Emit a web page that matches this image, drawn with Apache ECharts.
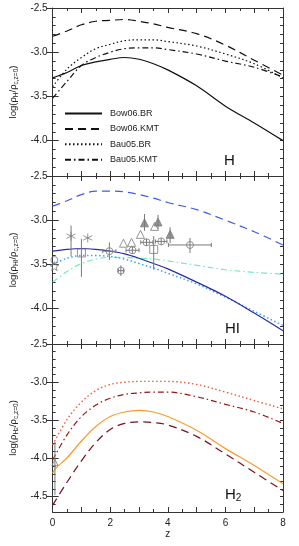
<!DOCTYPE html>
<html><head><meta charset="utf-8">
<script src="https://cdn.jsdelivr.net/npm/echarts@6/dist/echarts.min.js"></script>
<style>html,body{margin:0;padding:0;background:#fff}#c{width:299px;height:546px}</style>
</head><body><div id="c"></div>
<script>
// ---------- data ----------
const zGrid = [0, 0.5, 1, 1.5, 2, 2.5, 3, 3.5, 4, 5, 6, 7, 8];
const zGridH2 = [0, 0.1, 0.5, 1, 1.5, 2, 2.5, 3, 3.5, 4, 5, 6, 7, 8];
const xTickLabels = [0, 2, 4, 6, 8];
const yLabelsTop = [-4.0, -3.5, -3.0, -2.5];
const yLabelsBottom = [-4.5, -4.0, -3.5, -3.0, -2.5];

// H panel
const bow06BR_H  = [-3.29, -3.23, -3.15, -3.11, -3.08, -3.06, -3.08, -3.13, -3.20, -3.38, -3.61, -3.80, -4.00];
const bow06KMT_H = [-2.82, -2.76, -2.69, -2.65, -2.64, -2.63, -2.65, -2.68, -2.72, -2.79, -2.92, -3.09, -3.26];
const bau05BR_H  = [-3.39, -3.19, -3.06, -2.96, -2.91, -2.87, -2.86, -2.86, -2.88, -2.93, -3.02, -3.13, -3.29];
const bau05KMT_H = [-3.52, -3.33, -3.15, -3.06, -3.00, -2.96, -2.95, -2.95, -2.97, -3.02, -3.10, -3.17, -3.28];

// HI panel
const bow06KMT_HI = [-2.84, -2.78, -2.71, -2.67, -2.67, -2.68, -2.71, -2.75, -2.80, -2.88, -3.00, -3.13, -3.28];
const bow06BR_HI  = [-3.35, -3.33, -3.32, -3.33, -3.35, -3.38, -3.43, -3.49, -3.55, -3.70, -3.86, -4.05, -4.25];
const bau05BR_HI  = [-3.50, -3.43, -3.40, -3.40, -3.41, -3.44, -3.49, -3.54, -3.60, -3.72, -3.87, -4.03, -4.19];
const bau05KMT_HI = [-3.70, -3.58, -3.49, -3.44, -3.42, -3.42, -3.43, -3.44, -3.46, -3.51, -3.56, -3.59, -3.61];

// H2 panel
const bow06BR_H2  = [-4.19, -4.13, -3.99, -3.77, -3.58, -3.45, -3.39, -3.37, -3.39, -3.45, -3.63, -3.87, -4.09, -4.33];
const bau05BR_H2  = [-3.82, -3.49, -3.26, -3.11, -3.03, -3.00, -2.99, -2.99, -2.99, -3.03, -3.13, -3.24, -3.35];
const bau05KMT_H2 = [-4.02, -3.69, -3.45, -3.30, -3.21, -3.16, -3.14, -3.13, -3.13, -3.19, -3.29, -3.39, -3.54];
const bow06KMT_H2 = [-4.61, -4.31, -4.03, -3.79, -3.62, -3.54, -3.52, -3.53, -3.56, -3.71, -3.94, -4.18, -4.42];

// observations in HI panel: [z, value]
const obsAsterisk = [[0.64, -3.18], [1.22, -3.20]];
const obsSquare = [[1.00, -3.37], [3.51, -3.33]];
const obsCircle = [[1.97, -3.35], [2.77, -3.34], [3.26, -3.25], [3.77, -3.24], [4.77, -3.28], [2.37, -3.57], [0.06, -3.45]];
const obsOpenTri = [[2.46, -3.26], [2.74, -3.25], [3.05, -3.16], [3.54, -3.07]];
const obsFilledTri = [[3.19, -3.03], [3.66, -3.02], [4.08, -3.16]];
const obsStar = [[0.06, -3.52]];
// error bars in HI panel: [z, value, zLow, zHigh, valLow, valHigh]
const obsErrHI = [
  [0.64, -3.18, 0.64, 0.64, -3.41, -3.06],
  [1.00, -3.37, 1.00, 1.00, -3.64, -3.21],
  [3.51, -3.33, 3.51, 3.51, -3.56, -3.18],
  [1.97, -3.35, 1.74, 2.20, -3.45, -3.25],
  [2.77, -3.34, 2.55, 3.00, -3.38, -3.30],
  [3.26, -3.25, 3.06, 3.48, -3.29, -3.21],
  [3.77, -3.24, 3.57, 3.97, -3.28, -3.20],
  [4.77, -3.28, 4.02, 5.51, -3.37, -3.20],
  [2.37, -3.57, 2.28, 2.46, -3.63, -3.51],
  [3.19, -3.03, 3.19, 3.19, -3.12, -2.93],
  [3.66, -3.02, 3.66, 3.66, -3.10, -2.94],
  [4.08, -3.16, 4.08, 4.08, -3.26, -3.08]
];
// observation in H2 panel
const obsH2 = [[0.08, -4.05]];
const obsErrH2 = [[0.08, -4.05, 0.08, 0.08, -4.48, -3.78]];

// ---------- chart ----------
const FONT = 'Liberation Sans, Arial, Helvetica, sans-serif';
const AX = '#333';
const GRAY = '#7a7a7a';
const pair = (xs, ys) => ys.map((v, i) => [xs[i], v]);

const grids = [
  {left: 49, top: 8, width: 234, height: 168},
  {left: 49, top: 176, width: 234, height: 168},
  {left: 49, top: 344, width: 234, height: 168}
];
const yRanges = [[-4.4, -2.5], [-4.4, -2.5], [-4.7, -2.5]];
const yLabelSets = [yLabelsTop, yLabelsTop, yLabelsBottom];

function nameFor(i) {
  const sub = i === 0 ? '{s|H}' : (i === 1 ? '{s|HI}' : '{s|H}{ss|2}');
  return '{n|log(ρ}' + sub + '{n|/ρ}{s|c,z=0}{n|)}';
}
const nameRich = {
  n: {fontSize: 9.5, fontFamily: FONT, color: '#222', lineHeight: 13},
  s: {fontSize: 6.5, fontFamily: FONT, color: '#222', lineHeight: 7, verticalAlign: 'bottom'},
  ss: {fontSize: 5, fontFamily: FONT, color: '#222', lineHeight: 5, verticalAlign: 'bottom'}
};

const xAxes = [], yAxes = [];
grids.forEach((g, i) => {
  ['bottom', 'top'].forEach(pos => {
    xAxes.push({
      type: 'value', gridIndex: i, position: pos, min: 0, max: 8, interval: 1,
      axisLine: {show: true, onZero: false, lineStyle: {color: AX, width: 1}},
      axisTick: {show: true, inside: true, length: 5, lineStyle: {color: AX}},
      minorTick: {show: true, splitNumber: 2, length: 3, lineStyle: {color: AX}},
      splitLine: {show: false},
      axisLabel: {
        show: i === 2 && pos === 'bottom', color: '#222', fontSize: 10, fontFamily: FONT, margin: 6,
        customValues: xTickLabels, formatter: v => String(v)
      },
      name: (i === 2 && pos === 'bottom') ? 'z' : '',
      nameLocation: 'middle', nameGap: 17,
      nameTextStyle: {fontSize: 10, fontFamily: FONT, color: '#222'}
    });
  });
  const [mn, mx] = yRanges[i];
  ['left', 'right'].forEach(pos => {
    // minor ticks + labels
    yAxes.push({
      type: 'value', gridIndex: i, position: pos, min: mn, max: mx, interval: 0.1,
      axisLine: {show: true, onZero: false, lineStyle: {color: AX, width: 1}},
      axisTick: {show: true, inside: true, length: 3, lineStyle: {color: AX}},
      splitLine: {show: false},
      axisLabel: {
        show: pos === 'left', color: '#222', fontSize: 10, fontFamily: FONT, margin: 5,
        customValues: yLabelSets[i], formatter: v => v.toFixed(1)
      },
      name: pos === 'left' ? nameFor(i) : '',
      nameLocation: 'middle', nameGap: 33,
      nameTextStyle: {rich: nameRich}
    });
    // major ticks
    yAxes.push({
      type: 'value', gridIndex: i, position: pos, min: mn, max: mx, interval: 0.1,
      axisLine: {show: false},
      axisTick: {show: true, inside: true, length: 6, customValues: yLabelSets[i], lineStyle: {color: AX}},
      splitLine: {show: false},
      axisLabel: {show: false}
    });
  });
});

const DASH = [8, 5], DOT = [1.5, 2.5], DASHDOT = [6, 3, 1.5, 3];
function line(name, data, gi, color, type, width) {
  return {
    name, type: 'line', data, xAxisIndex: gi * 2, yAxisIndex: gi * 4,
    showSymbol: false, symbol: 'none', smooth: 0.35, clip: true,
    lineStyle: {color, type, width: width || 1.2}, itemStyle: {color},
    silent: true, animation: false, z: 2
  };
}
function errSeries(data, gi) {
  return {
    type: 'custom', xAxisIndex: gi * 2, yAxisIndex: gi * 4, data, clip: true, z: 3,
    encode: {x: 0, y: 1}, animation: false, silent: true,
    renderItem: (params, api) => {
      const x = api.value(0), y = api.value(1);
      const xl = api.value(2), xh = api.value(3), yl = api.value(4), yh = api.value(5);
      const ch = [];
      const st = {stroke: GRAY, lineWidth: 1};
      if (xh > xl) {
        const a = api.coord([xl, y]), b = api.coord([xh, y]);
        ch.push({type: 'line', shape: {x1: a[0], y1: a[1], x2: b[0], y2: b[1]}, style: st});
        ch.push({type: 'line', shape: {x1: a[0], y1: a[1] - 2, x2: a[0], y2: a[1] + 2}, style: st});
        ch.push({type: 'line', shape: {x1: b[0], y1: b[1] - 2, x2: b[0], y2: b[1] + 2}, style: st});
      }
      if (yh > yl) {
        const a = api.coord([x, yl]), b = api.coord([x, yh]);
        ch.push({type: 'line', shape: {x1: a[0], y1: a[1], x2: b[0], y2: b[1]}, style: st});
      }
      return {type: 'group', children: ch};
    }
  };
}
function scat(data, gi, symbol, size, filled) {
  return {
    type: 'scatter', xAxisIndex: gi * 2, yAxisIndex: gi * 4, data, symbol, symbolSize: size,
    itemStyle: {color: filled ? GRAY : 'rgba(255,255,255,0)', borderColor: GRAY, borderWidth: 1},
    animation: false, silent: true, z: 4
  };
}
const ASTER = 'path://M0,-5L0,5M-4.33,-2.5L4.33,2.5M-4.33,2.5L4.33,-2.5';
const STAR = 'path://M0,-5L1.18,-1.62L4.76,-1.55L1.9,0.62L2.94,4.05L0,2L-2.94,4.05L-1.9,0.62L-4.76,-1.55L-1.18,-1.62Z';

const series = [
  line('Bow06.BR', pair(zGrid, bow06BR_H), 0, '#111', 'solid'),
  line('Bow06.KMT', pair(zGrid, bow06KMT_H), 0, '#111', DASH),
  line('Bau05.BR', pair(zGrid, bau05BR_H), 0, '#111', DOT),
  line('Bau05.KMT', pair(zGrid, bau05KMT_H), 0, '#111', DASHDOT),

  line('HI KMT', pair(zGrid, bow06KMT_HI), 1, '#3c5cf0', DASH),
  line('HI Bau KMT', pair(zGrid, bau05KMT_HI), 1, '#6ef0b4', DASHDOT),
  line('HI Bau BR', pair(zGrid, bau05BR_HI), 1, '#3aa0ff', DOT, 1.5),
  line('HI BR', pair(zGrid, bow06BR_HI), 1, '#2a2aa8', 'solid'),

  line('H2 Bau BR', pair(zGrid, bau05BR_H2), 2, '#f2583a', DOT, 1.4),
  line('H2 Bau KMT', pair(zGrid, bau05KMT_H2), 2, '#9a1616', DASHDOT),
  line('H2 KMT', pair(zGrid, bow06KMT_H2), 2, '#7a1020', DASH),
  line('H2 BR', pair(zGridH2, bow06BR_H2), 2, '#ff9a28', 'solid'),

  errSeries(obsErrHI, 1),
  scat(obsAsterisk, 1, ASTER, 9, false),
  scat(obsSquare, 1, 'rect', 8, false),
  scat(obsCircle, 1, 'circle', 7, false),
  scat(obsOpenTri, 1, 'triangle', 8, false),
  scat(obsFilledTri, 1, 'triangle', 8, true),
  scat(obsStar, 1, STAR, 9, false),
  errSeries(obsErrH2, 2),
  scat(obsH2, 2, 'triangle', 6, false)
];

const chart = echarts.init(document.getElementById('c'), null, {renderer: 'canvas'});
chart.setOption({
  animation: false,
  backgroundColor: '#fff',
  grid: grids,
  xAxis: xAxes,
  yAxis: yAxes,
  legend: {
    data: ['Bow06.BR', 'Bow06.KMT', 'Bau05.BR', 'Bau05.KMT'],
    orient: 'vertical', left: 64, top: 109, padding: 0, itemWidth: 37, itemHeight: 10, itemGap: 6.4,
    itemStyle: {opacity: 0},
    textStyle: {fontSize: 9, fontFamily: FONT, color: '#222', padding: [0, 0, 0, 3]},
    selectedMode: false
  },
  graphic: [
    {type: 'text', left: 224, top: 153, style: {text: 'H', font: '15px ' + FONT, fill: '#111'}},
    {type: 'text', left: 225, top: 321, style: {text: 'HI', font: '15px ' + FONT, fill: '#111'}},
    {type: 'text', left: 225, top: 487, style: {
      text: '{a|H}{b|2}',
      rich: {a: {fontSize: 15, fontFamily: FONT, fill: '#111', color: '#111', lineHeight: 18},
             b: {fontSize: 10, fontFamily: FONT, fill: '#111', color: '#111', lineHeight: 8, verticalAlign: 'bottom'}}
    }}
  ],
  series
});
</script></body></html>
